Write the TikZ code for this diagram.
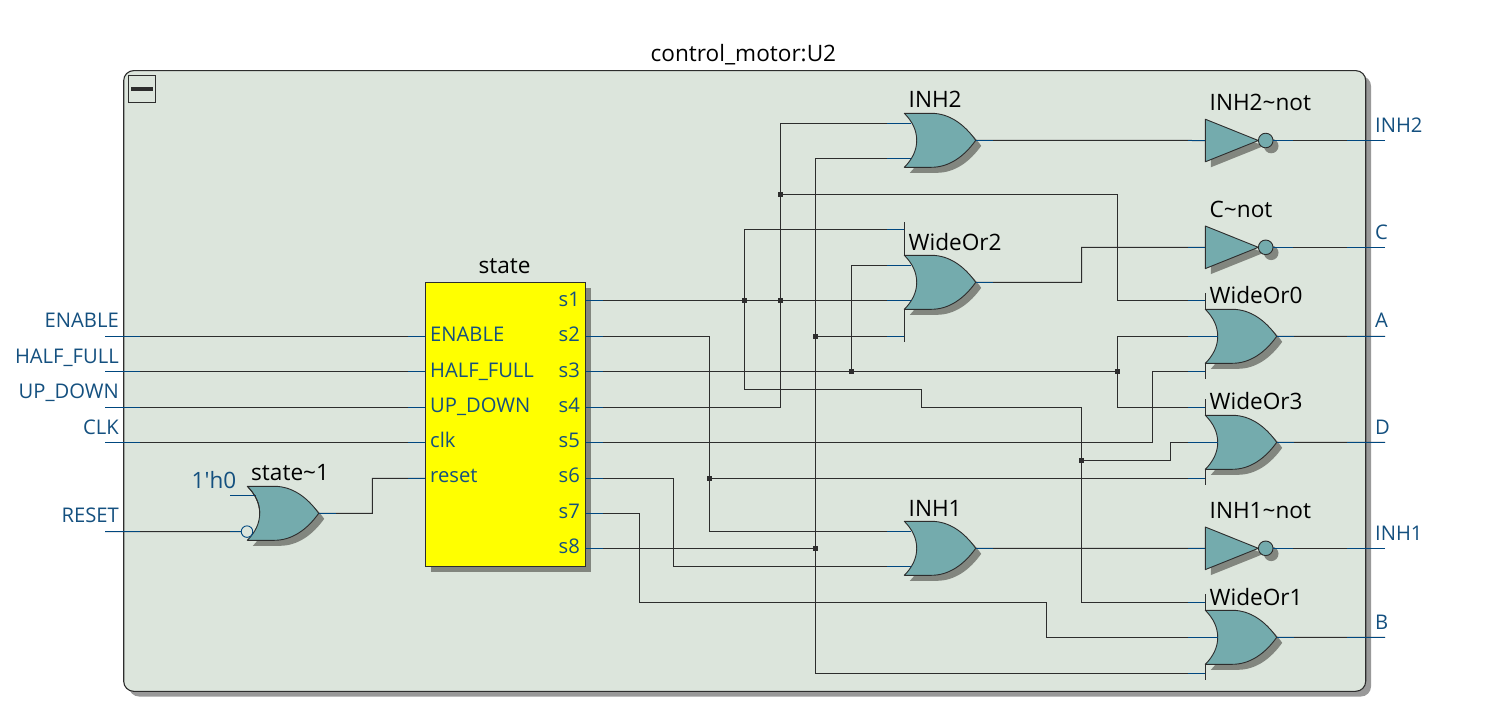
\documentclass[tikz,border=0pt]{standalone}
\usepackage{fontspec}
\setmainfont{Open Sans}
\newfontfamily\plainfont{Open Sans}
\definecolor{panel}{HTML}{DCE5DC}
\definecolor{gatefill}{HTML}{74ABAD}
\definecolor{gateshadow}{HTML}{82867F}
\definecolor{panelshadow}{HTML}{999999}
\definecolor{wirecol}{HTML}{2D2D2D}
\definecolor{pincol}{HTML}{00477F}
\definecolor{labcol}{HTML}{14507F}
\definecolor{blockfill}{RGB}{255,255,0}
\tikzset{
  wire/.style={draw=wirecol,line width=1pt},
  pinwire/.style={draw=pincol,line width=1pt},
  gateline/.style={draw=wirecol,line width=0.9pt,fill=gatefill,line join=round},
  shade/.style={fill=gateshadow,draw=none},
  junction/.style={rectangle,fill=wirecol,inner sep=0pt,minimum size=5pt},
  blacklab/.style={text=black,font=\fontsize{22.6}{22}\selectfont,inner sep=0pt,anchor=base west,yshift=-1pt},
  bluelab/.style={text=labcol,font=\fontsize{20.2}{20}\selectfont,inner sep=0pt,anchor=base west,yshift=-1pt},
  bluelabr/.style={text=labcol,font=\fontsize{20.2}{20}\selectfont,inner sep=0pt,anchor=base east,yshift=-1pt},
}
\newcommand\orshape{(0,0) -- (27,0) .. controls (45,0) and (60,11) .. (71.4,27) .. controls (60,43) and (45,54) .. (27,54) -- (0,54) .. controls (8,46) and (12.4,37) .. (12.4,27) .. controls (12.4,17) and (8,8) .. (0,0) -- cycle}
\newcommand\orgate[3]{%
  \begin{scope}[shift={(#2,#3)}]
    \fill[shade,shift={(5.5,5.5)}] \orshape;
    \draw[gateline] \orshape;
    \coordinate (#1-tt) at (0,-25.8);
    \coordinate (#1-t) at (0,-9);
    \coordinate (#1-u) at (7,10.3);
    \coordinate (#1-m) at (12.4,27.1);
    \coordinate (#1-l) at (7,45);
    \coordinate (#1-b) at (0,62);
    \coordinate (#1-bb) at (0,81.2);
    \coordinate (#1-o) at (71.4,27.1);
  \end{scope}}
\newcommand\notgate[3]{%
  \begin{scope}[shift={(#2,#3)}]
    \fill[shade,shift={(5.5,5.5)}] (0,-21.3) -- (53,0) -- (0,21.3) -- cycle;
    \fill[shade] (65.9,5.5) circle (7.3);
    \draw[gateline] (0,-21.3) -- (53,0) -- (0,21.3) -- cycle;
    \draw[gateline] (60.4,0) circle (7.3);
    \coordinate (#1-i) at (0,0);
    \coordinate (#1-o) at (67.7,0);
  \end{scope}}
\begin{document}
\begin{tikzpicture}[x=1pt,y=-1pt]
\useasboundingbox (0,0) rectangle (1507,721);
% panel
\fill[panelshadow,rounded corners=10pt] (129,76) rectangle (1371,696.5);
\draw[draw=wirecol,line width=1.1pt,fill=panel,rounded corners=10pt] (123.7,70.6) rectangle (1365.7,691.3);
\node[blacklab] (title) at (650.5,60) {control\_motor:U2};
% collapse button
\draw[draw=wirecol,line width=1pt,fill=panel] (128.3,75.3) rectangle (155.3,102.3);
\fill[wirecol] (131,87) rectangle (153,91);
% state block
\fill[shade] (431,287.8) rectangle (591.2,571.8);
\node[draw=wirecol,line width=1pt,fill=blockfill,rectangle,inner sep=0pt,minimum width=160.4pt,minimum height=284pt] (state) at (505.5,424.3) {};
\node[blacklab,anchor=base] (statelab) at (504.5,272) {state};
\foreach \n/\y in {s1/300.3,s2/336.3,s3/371.7,s4/407.3,s5/442.3,s6/478.3,s7/513.3,s8/548.3}
  \coordinate (st-\n) at (585.7,\y);
\foreach \n/\y in {ENABLE/336.3,HALF/371.7,UP/407.3,clk/442.3,reset/478.3}
  \coordinate (st-\n) at (425.3,\y);
\node[bluelab] (pENABLE) at (430,340) {ENABLE};
\node[bluelab] (pHALF) at (430,376) {HALF\_FULL};
\node[bluelab] (pUP) at (430,411.7) {UP\_DOWN};
\node[bluelab] (pclk) at (430,446.7) {clk};
\node[bluelab] (preset) at (430,481.7) {reset};
\node[bluelabr] (ps1) at (580,305) {s1};
\node[bluelabr] (ps2) at (580,340) {s2};
\node[bluelabr] (ps3) at (580,376) {s3};
\node[bluelabr] (ps4) at (580,411.7) {s4};
\node[bluelabr] (ps5) at (580,446.7) {s5};
\node[bluelabr] (ps6) at (580,481.7) {s6};
\node[bluelabr] (ps7) at (580,517.7) {s7};
\node[bluelabr] (ps8) at (580,552.7) {s8};
% gates
\orgate{inh2}{904.3}{113.3}
\orgate{wo2}{904.3}{255.3}
\orgate{wo0}{1205.3}{309.3}
\orgate{wo3}{1205.3}{415.3}
\orgate{inh1}{904.3}{521.3}
\orgate{wo1}{1205.3}{610.3}
\orgate{sg}{247.3}{486.3}
\notgate{inh2n}{1205.3}{140.5}
\notgate{cn}{1205.3}{247.3}
\notgate{inh1n}{1205.3}{548.3}
\coordinate (wo3-t) at (1205.3,407.3);
\coordinate (wo3-b) at (1205.3,478.3);
\coordinate (wo1-t) at (1205.3,602.3);
\coordinate (wo1-b) at (1205.3,673.3);
% spurs
\draw[wire] (904.3,222) -- (904.3,255.3) (904.3,309.3) -- (904.3,341.7);
\foreach \g/\y in {1205.3/309.3,1205.3/415.3,1205.3/610.3}
  \draw[wire] (\g,\y-16) -- (\g,\y) (\g,\y+54) -- (\g,\y+70);
% gate labels
\node[blacklab] (linh2) at (908.5,106.7) {INH2};
\node[blacklab] (lwo2) at (908.5,249) {WideOr2};
\node[blacklab] (linh2n) at (1209.5,109.3) {INH2\textasciitilde not};
\node[blacklab] (lcn) at (1209.5,216) {C\textasciitilde not};
\node[blacklab] (lwo0) at (1209.5,302.7) {WideOr0};
\node[blacklab] (lwo3) at (1209.5,408.3) {WideOr3};
\node[blacklab] (linh1) at (908.5,515) {INH1};
\node[blacklab] (linh1n) at (1209.5,517.7) {INH1\textasciitilde not};
\node[blacklab] (lwo1) at (1209.5,604) {WideOr1};
\node[blacklab] (lsg) at (251,479.3) {state\textasciitilde 1};
\node[bluelab,font=\plainfont\fontsize{22.5}{22}\selectfont] (lconst) at (191.5,487.7) {1'h0};
% free coordinates
\coordinate (iEN) at (105,336.3);
\coordinate (iHF) at (105,371.7);
\coordinate (iUD) at (105,407.3);
\coordinate (iCK) at (105,442.3);
\coordinate (iRS) at (105,531.5);
\coordinate (iK) at (230,495);
\coordinate (iKe) at (256,495);
\coordinate (oINH2) at (1385,140.5);
\coordinate (oC) at (1385,247.3);
\coordinate (oA) at (1385,336.4);
\coordinate (oD) at (1385,442.4);
\coordinate (oINH1) at (1385,548.3);
\coordinate (oB) at (1385,637.4);
\coordinate (b1) at (1117.5,194);
\coordinate (b2) at (921.7,389.3);
\coordinate (b3) at (921.7,407.3);
\coordinate (b5) at (1170.3,460.3);
\coordinate (b6) at (1152.3,442.3);
\coordinate (b7) at (673.5,478.3);
\coordinate (b8) at (639,513.3);
\coordinate (b9) at (1046.7,602.3);
\coordinate (b10) at (1081.7,282.4);
\coordinate (b11) at (372.3,513.4);
% junctions
\node[junction] (j744) at (744.5,300.3) {};
\node[junction] (j780a) at (780.5,300.3) {};
\node[junction] (j780b) at (780.5,194) {};
\node[junction] (j851) at (851,371.7) {};
\node[junction] (j815a) at (815.5,336.5) {};
\node[junction] (j815b) at (815.5,548.3) {};
\node[junction] (j709) at (709.5,478.3) {};
\node[junction] (j1117) at (1117.5,371.7) {};
\node[junction] (j1081) at (1081.7,460.3) {};
% bubble
\node[circle,draw=pincol,line width=0.9pt,fill=panel,inner sep=0pt,minimum size=11.5pt] (bub) at (247,531.6) {};
% wires
\draw[wire] (st-s1) -- (j744.center) -- (j780a.center) -- (wo2-l);
\draw[wire] (st-s4) -| (j780a.center) |- (inh2-u);
\draw[wire] (j780b.center) -- (b1) |- (wo0-t);
\draw[wire] (j744.center) |- (wo2-tt);
\draw[wire] (j744.center) |- (b2) -- (b3) -| (j1081.center) |- (wo1-t);
\draw[wire] (j1081.center) -- (b5) |- (wo3-m);
\draw[wire] (st-s2) -| (j709.center) |- (inh1-u);
\draw[wire] (j709.center) -- (wo3-b);
\draw[wire] (st-s3) -- (j851.center) -- (j1117.center);
\draw[wire] (j851.center) |- (wo2-u);
\draw[wire] (j1117.center) |- (wo0-m);
\draw[wire] (j1117.center) |- (wo3-t);
\draw[wire] (st-s5) -- (b6) |- (wo0-b);
\draw[wire] (st-s6) -- (b7) |- (inh1-l);
\draw[wire] (st-s7) -- (b8) |- (b9) |- (wo1-m);
\draw[wire] (st-s8) -- (j815b.center);
\draw[wire] (j815b.center) |- (inh2-l);
\draw[wire] (j815b.center) |- (wo1-b);
\draw[wire] (j815a.center) -- (wo2-bb);
\draw[wire] (inh2-o) -- (inh2n-i);
\draw[wire] (wo2-o) -- (b10) |- (cn-i);
\draw[wire] (inh1-o) -- (inh1n-i);
\draw[wire] (inh2n-o) -- (oINH2);
\draw[wire] (cn-o) -- (oC);
\draw[wire] (inh1n-o) -- (oINH1);
\draw[wire] (wo0-o) -- (oA);
\draw[wire] (wo3-o) -- (oD);
\draw[wire] (wo1-o) -- (oB);
\draw[wire] (iEN) -- (st-ENABLE);
\draw[wire] (iHF) -- (st-HALF);
\draw[wire] (iUD) -- (st-UP);
\draw[wire] (iCK) -- (st-clk);
\draw[wire] (iRS) -- (bub);
\draw[wire] (sg-o) -- (b11) |- (st-reset);
% blue pin stubs
\foreach \p/\l in {inh2-u/24,inh2-l/24,inh1-u/24,inh1-l/24,wo2-u/24,wo2-l/24,wo2-tt/17,wo2-bb/17,
  wo0-t/17,wo0-m/29.4,wo0-b/17,wo3-t/17,wo3-m/29.4,wo3-b/17,wo1-t/17,wo1-m/29.4,wo1-b/17,
  inh2n-i/17,cn-i/17,inh1n-i/17,st-ENABLE/17,st-HALF/17,st-UP/17,st-clk/17,st-reset/17}
  \draw[pinwire] (\p) -- ++(-\l,0);
\foreach \p/\l in {inh2-o/17,wo2-o/17,inh1-o/17,wo0-o/17,wo3-o/17,wo1-o/17,sg-o/17,
  inh2n-o/20,cn-o/20,inh1n-o/20,st-s1/17,st-s2/17,st-s3/17,st-s4/17,st-s5/17,st-s6/17,st-s7/17,st-s8/17}
  \draw[pinwire] (\p) -- ++(\l,0);
\foreach \p in {oINH2,oC,oA,oD,oINH1,oB} \draw[pinwire] (\p) -- ++(-38,0);
\foreach \p in {iEN,iHF,iUD,iCK,iRS} \draw[pinwire] (\p) -- ++(35,0);
\draw[pinwire] (iK) -- (iKe);
\draw[pinwire] (bub.west) -- ++(-11,0);
\draw[gateline,fill=none] (247.3,486.3) .. controls (255.3,494.3) and (259.7,503.3) .. (259.7,513.3);
% port labels
\node[bluelabr] (nEN) at (119,326) {ENABLE};
\node[bluelabr] (nHF) at (119,362) {HALF\_FULL};
\node[bluelabr] (nUD) at (119,397) {UP\_DOWN};
\node[bluelabr] (nCK) at (119,433) {CLK};
\node[bluelabr] (nRS) at (119,521) {RESET};
\node[bluelab] (nINH2) at (1375,131) {INH2};
\node[bluelab] (nC) at (1375,238) {C};
\node[bluelab] (nA) at (1375,326) {A};
\node[bluelab] (nD) at (1375,433) {D};
\node[bluelab] (nINH1) at (1375,539) {INH1};
\node[bluelab] (nB) at (1375,628) {B};
\end{tikzpicture}
\end{document}
